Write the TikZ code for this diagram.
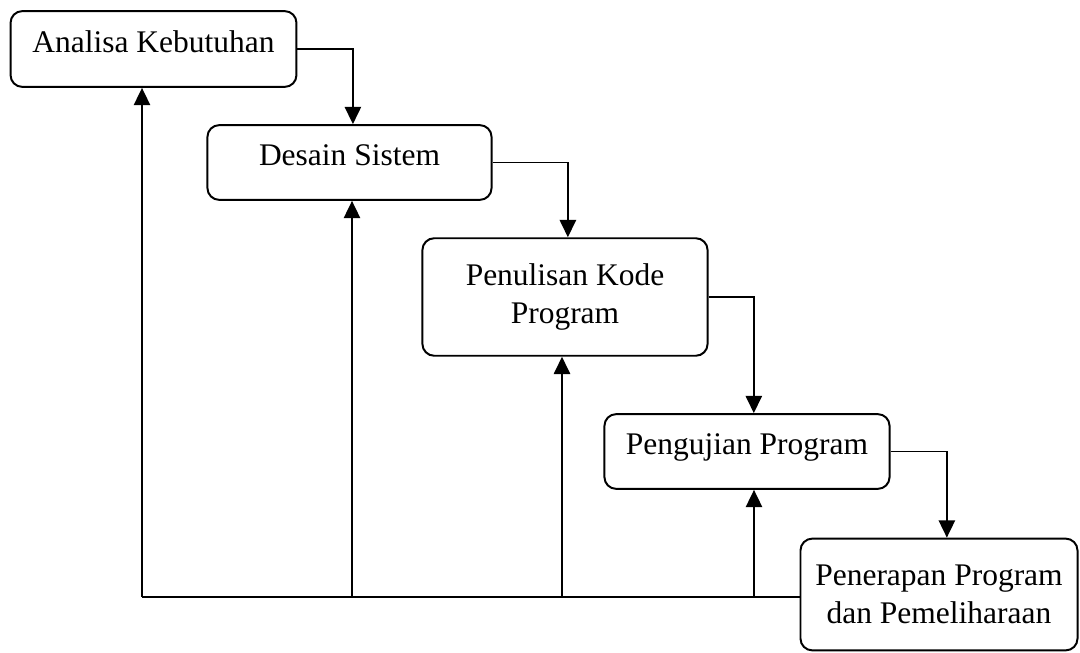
\documentclass[tikz,border=0pt]{standalone}
\usepackage{fontspec}
\setmainfont{Liberation Serif}
\usetikzlibrary{arrows.meta,positioning}

\begin{document}
\begin{tikzpicture}[x=0.0134cm, y=-0.0134cm,
    stage/.style={rectangle, rounded corners=4.5pt, draw, line width=0.75pt,
        font=\fontsize{12}{14.4}\selectfont, align=center, inner sep=0pt},
    oneline/.style={text depth=5.5pt},
    flow/.style={line width=0.75pt, -{Triangle[length=6.6pt, width=6.2pt]}}
]
    \useasboundingbox (0,0) rectangle (1080,653);

    % Waterfall stages
    \node[stage, oneline, minimum width=109pt, minimum height=28.9pt] (analisa) at (153.5,49) {Analisa Kebutuhan};
    \node[stage, oneline, minimum width=108.3pt, minimum height=28.5pt] (desain) at (349.5,162.5) {Desain Sistem};
    \node[stage, minimum width=108.7pt, minimum height=44.8pt] (kode) at (565,297) {Penulisan Kode \\ Program};
    \node[stage, oneline, minimum width=108.7pt, minimum height=28.5pt] (uji) at (747,451.5) {Pengujian Program};
    \node[stage, minimum width=105.6pt, minimum height=42.6pt] (terap) at (939,594.5) {Penerapan Program \\ dan Pemeliharaan};

    % Forward flow
    \draw[flow] (analisa.east) -| ([xshift=1.3pt]desain.north);
    \draw[flow] (desain.east) -| ([xshift=1.1pt]kode.north);
    \draw[flow] (kode.east) -| ([xshift=2.6pt]uji.north);
    \draw[flow] (uji.east) -| ([xshift=3pt]terap.north);

    % Feedback line
    \coordinate (fb1) at (142,597);
    \coordinate (fb2) at (352,597);
    \coordinate (fb3) at (562,597);
    \coordinate (fb4) at (754,597);
    \draw[line width=0.75pt] (terap.west |- fb1) -- (fb1);
    \draw[flow] (fb1) -- (fb1 |- analisa.south);
    \draw[flow] (fb2) -- (fb2 |- desain.south);
    \draw[flow] (fb3) -- (fb3 |- kode.south);
    \draw[flow] (fb4) -- (fb4 |- uji.south);
\end{tikzpicture}
\end{document}
